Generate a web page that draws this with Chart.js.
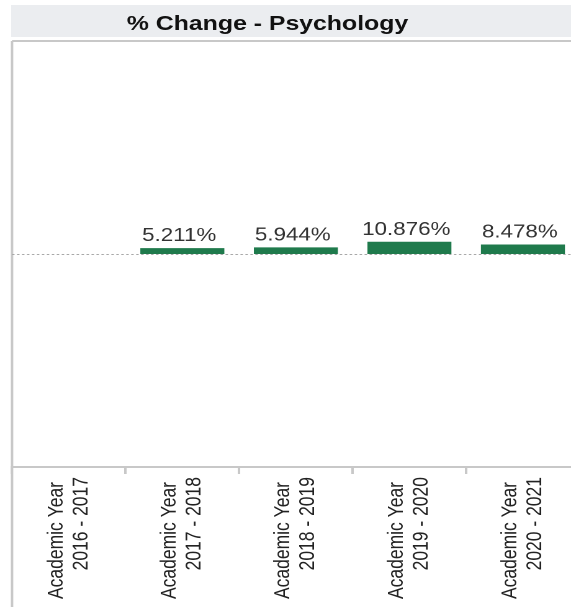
<!DOCTYPE html>
<html><head><meta charset="utf-8">
<script src="https://cdn.jsdelivr.net/npm/chart.js@4.4.0/dist/chart.umd.min.js"></script>
<style>
html,body{margin:0;padding:0;background:#fff;overflow:hidden;width:571px;height:607px;}
#wrap{position:absolute;left:0;top:0;width:467px;height:607px;transform:scaleX(1.2413);transform-origin:0 0;}
</style></head><body>
<div id="wrap"><canvas id="c"></canvas></div>
<script>
const chartTitle = '% Change - Psychology';
const categories = [
  ['Academic Year', '2016 - 2017'],
  ['Academic Year', '2017 - 2018'],
  ['Academic Year', '2018 - 2019'],
  ['Academic Year', '2019 - 2020'],
  ['Academic Year', '2020 - 2021']
];
const pctChange = [null, 5.211, 5.944, 10.876, 8.478];
const valueLabels = [null, '5.211%', '5.944%', '10.876%', '8.478%'];
const yMin = -190, yMax = 190;

const FONT = '"Liberation Sans", Arial, sans-serif';

const framePlugin = {
  id: 'frame',
  beforeDraw(chart) {
    const ctx = chart.ctx, a = chart.chartArea;
    ctx.save();
    ctx.fillStyle = '#ebedf0';
    ctx.fillRect(9, 5, 451, 32);
    ctx.fillStyle = '#111';
    ctx.font = 'bold 20px ' + FONT;
    ctx.textAlign = 'center';
    ctx.textBaseline = 'alphabetic';
    ctx.fillText(chartTitle, 215.5, 30);
    ctx.strokeStyle = '#c8c8c8';
    ctx.lineWidth = 2;
    ctx.beginPath();
    ctx.moveTo(a.left, a.top); ctx.lineTo(chart.width, a.top);
    ctx.moveTo(a.left, a.top); ctx.lineTo(a.left, chart.height);
    ctx.stroke();
    ctx.restore();
  },
  beforeDatasetsDraw(chart) {
    const ctx = chart.ctx, a = chart.chartArea;
    const y0 = chart.scales.y.getPixelForValue(0);
    ctx.save();
    ctx.strokeStyle = '#a8a8a8';
    ctx.lineWidth = 1;
    ctx.setLineDash([2, 2]);
    ctx.beginPath();
    ctx.moveTo(a.left, y0 + 0.5); ctx.lineTo(a.right, y0 + 0.5);
    ctx.stroke();
    ctx.restore();
  },
  afterDatasetsDraw(chart) {
    const ctx = chart.ctx;
    const meta = chart.getDatasetMeta(0);
    ctx.save();
    ctx.fillStyle = '#333';
    ctx.font = '18px ' + FONT;
    ctx.textAlign = 'center';
    ctx.textBaseline = 'alphabetic';
    meta.data.forEach((el, i) => {
      if (pctChange[i] == null) return;
      ctx.fillText(valueLabels[i], el.x - 2.5, el.y - 7);
    });
    ctx.restore();
  },
  afterDraw(chart) {
    const ctx = chart.ctx, xs = chart.scales.x, a = chart.chartArea;
    ctx.save();
    ctx.fillStyle = '#222';
    ctx.font = '17.5px ' + FONT;
    ctx.textAlign = 'right';
    ctx.textBaseline = 'middle';
    categories.forEach((lines, i) => {
      const x = xs.getPixelForValue(i);
      ctx.save();
      ctx.translate(x, a.bottom);
      ctx.rotate(-Math.PI / 2);
      ctx.fillText(lines[0], -15, -10);
      ctx.fillText(lines[1], -10, 10);
      ctx.restore();
    });
    ctx.restore();
  }
};

new Chart(document.getElementById('c'), {
  type: 'bar',
  data: {
    labels: categories,
    datasets: [{
      data: pctChange,
      backgroundColor: '#1f7a4c',
      borderWidth: 0,
      barPercentage: 0.74,
      categoryPercentage: 1
    }]
  },
  options: {
    responsive: true,
    maintainAspectRatio: false,
    animation: false,
    devicePixelRatio: 2,
    layout: { padding: { left: 9.7, top: 41, right: 0, bottom: 0 } },
    plugins: { legend: { display: false }, title: { display: false }, tooltip: { enabled: false } },
    scales: {
      x: {
        offset: true,
        grid: { offset: true, drawOnChartArea: false, drawTicks: true, tickLength: 7, color: '#c8c8c8', lineWidth: 2 },
        border: { display: true, color: '#c8c8c8', width: 2 },
        ticks: { display: false },
        afterFit(s) { s.height = 140; }
      },
      y: { display: false, min: yMin, max: yMax }
    }
  },
  plugins: [framePlugin]
});
</script>
</body></html>
